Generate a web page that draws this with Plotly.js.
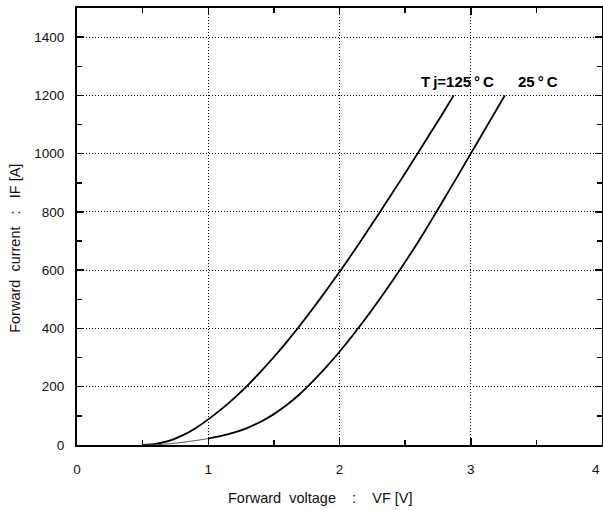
<!DOCTYPE html>
<html>
<head>
<meta charset="utf-8">
<script src="https://cdn.plot.ly/plotly-3.0.1.min.js"></script>
<style>
  html, body { margin: 0; padding: 0; background: #fff; }
  #chart { width: 603px; height: 510px; }
</style>
</head>
<body>
<div id="chart"></div>
<script>
// Forward characteristics: forward voltage VF [V] vs forward current IF [A]
const vf125 = [0.5, 0.6, 0.7, 0.8, 0.9, 1.0, 1.1, 1.2, 1.3, 1.4, 1.5, 1.6, 1.7, 1.8, 1.9, 2.0, 2.1, 2.2, 2.3, 2.4, 2.5, 2.6, 2.7, 2.8, 2.87];
const if125 = [0, 4, 14, 32, 57, 88, 123, 162, 205, 252, 302, 355, 411, 470, 531, 594, 659, 726, 794, 863, 933, 1004, 1076, 1148, 1200];

const vf25 = [0.5, 0.6, 0.7, 0.8, 0.9, 1.0, 1.1, 1.2, 1.3, 1.4, 1.5, 1.6, 1.7, 1.8, 1.9, 2.0, 2.1, 2.2, 2.3, 2.4, 2.5, 2.6, 2.7, 2.8, 2.9, 3.0, 3.1, 3.2, 3.26];
const if25 = [0, 1, 4, 9, 15, 22, 31, 43, 59, 80, 106, 138, 176, 220, 268, 320, 376, 435, 497, 561, 628, 698, 771, 847, 923, 1000, 1077, 1154, 1200];

// the last label ("4") sits at the right frame edge and is drawn right-aligned there
const xTicks = [0, 1, 2, 3, 4];
const xTickText = ['0', '1', '2', '3', ''];
const xLastLabel = '4';
const yTicks = [0, 200, 400, 600, 800, 1000, 1200, 1400];

const xTitle = 'Forward\u00a0\u00a0voltage\u00a0\u00a0\u00a0\u00a0:\u00a0\u00a0\u00a0\u00a0VF [V]';
const yTitle = 'Forward\u00a0\u00a0current\u00a0\u00a0\u00a0:\u00a0\u00a0\u00a0IF [A]';
const label125 = 'T\u2009j=125\u2009°\u2009C';
const label25 = '25\u2009°\u2009C';

const textFont = 'Liberation Sans, Arial, sans-serif';
const labelFont = 'Liberation Sans Narrow, Arial Narrow, Liberation Sans, sans-serif';

const axisCommon = {
  showline: true,
  linecolor: '#000',
  linewidth: 2,
  mirror: 'allticks',
  ticks: 'inside',
  ticklen: 7,
  tickwidth: 1.5,
  tickcolor: '#000',
  showgrid: true,
  gridcolor: '#000',
  gridwidth: 1.1,
  griddash: '1px,2px',
  zeroline: false,
  fixedrange: true,
  tickfont: { family: textFont, size: 13.5, color: '#111' }
};

const curveLine = { color: '#000', width: 1.8, shape: 'spline', smoothing: 0.8 };
const toeLine = { color: '#555', width: 1, shape: 'spline', smoothing: 0.8 };

// the 25°C toe (below 1 V) is drawn as a thin line, the rest as a full-weight curve
const toeEnd = vf25.indexOf(1.0);

const traces = [
  { x: vf125, y: if125, type: 'scatter', mode: 'lines', line: curveLine, hoverinfo: 'skip', name: 'Tj=125°C' },
  { x: vf25.slice(0, toeEnd + 1), y: if25.slice(0, toeEnd + 1), type: 'scatter', mode: 'lines', line: toeLine, hoverinfo: 'skip', name: '25°C toe' },
  { x: vf25.slice(toeEnd), y: if25.slice(toeEnd), type: 'scatter', mode: 'lines', line: curveLine, hoverinfo: 'skip', name: '25°C' }
];

const layout = {
  width: 603,
  height: 510,
  margin: { l: 77, r: 1, t: 8, b: 65 },
  paper_bgcolor: '#fff',
  plot_bgcolor: '#fff',
  showlegend: false,
  xaxis: Object.assign({}, axisCommon, {
    range: [0, 4],
    tickvals: xTicks,
    ticktext: xTickText,
    ticklabelstandoff: 11,
    minor: { dtick: 0.5, ticks: 'inside', ticklen: 5, tickwidth: 1.5, tickcolor: '#000', showgrid: false }
  }),
  yaxis: Object.assign({}, axisCommon, {
    range: [0, 1500],
    tickvals: yTicks,
    ticklabelstandoff: 8,
    minor: { dtick: 100, ticks: 'inside', ticklen: 5, tickwidth: 1.5, tickcolor: '#000', showgrid: false }
  }),
  annotations: [
    {
      text: xLastLabel, xref: 'paper', yref: 'paper', x: 1, y: -0.057,
      xanchor: 'right', yanchor: 'middle', showarrow: false,
      font: { family: textFont, size: 13.5, color: '#111' }
    },
    {
      text: xTitle, xref: 'paper', yref: 'paper', x: 0.463, y: -0.121,
      xanchor: 'center', yanchor: 'middle', showarrow: false,
      font: { family: textFont, size: 14.5, color: '#111' }
    },
    {
      text: yTitle, xref: 'paper', yref: 'paper', x: -0.118, y: 0.449,
      xanchor: 'center', yanchor: 'middle', showarrow: false, textangle: -90,
      font: { family: textFont, size: 14.5, color: '#111' }
    },
    {
      text: label125, xref: 'x', yref: 'y', x: 2.90, y: 1249,
      xanchor: 'center', yanchor: 'middle', showarrow: false,
      font: { family: labelFont, size: 15, color: '#000', weight: 'bold' }
    },
    {
      text: label25, xref: 'x', yref: 'y', x: 3.51, y: 1249,
      xanchor: 'center', yanchor: 'middle', showarrow: false,
      font: { family: labelFont, size: 15, color: '#000', weight: 'bold' }
    }
  ]
};

Plotly.newPlot('chart', traces, layout, { staticPlot: true, displayModeBar: false });
</script>
</body>
</html>
